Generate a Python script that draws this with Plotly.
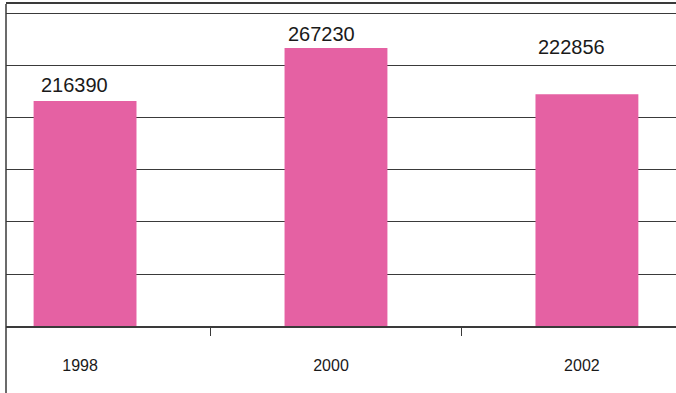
import plotly.graph_objects as go

years = ["1998", "2000", "2002"]
values = [216390, 267230, 222856]

# label offsets (pixels) so the value labels sit where the original has them
label_xshift = [-11, -14, -15]
label_yshift = [16, 14, 47]

bar_color = "#E561A3"
line_color = "#3a3a3a"

fig = go.Figure()
fig.add_trace(go.Bar(
    x=years,
    y=values,
    width=0.41,
    marker=dict(color=bar_color, line=dict(width=0)),
))

for i, v in enumerate(values):
    fig.add_annotation(
        x=i, y=v, text=str(v), showarrow=False,
        xshift=label_xshift[i], yshift=label_yshift[i], yanchor="middle",
        font=dict(family="Liberation Sans", size=20, color="#1a1a1a"),
    )

# left axis line runs down past the plot area to the bottom edge
fig.add_shape(type="line", xref="paper", yref="paper",
              x0=0, x1=0, y0=-67 / 322, y1=1,
              line=dict(color=line_color, width=1.5))

fig.update_layout(
    width=676, height=393,
    margin=dict(l=6, r=0, t=4, b=67),
    paper_bgcolor="white", plot_bgcolor="white",
    showlegend=False,
    font=dict(family="Liberation Sans", color="#1a1a1a"),
    xaxis=dict(
        type="category",
        range=[-0.315, 2.355],
        showgrid=False,
        showline=True, linecolor=line_color, linewidth=1.5,
        mirror=True,
        ticks="outside", tickson="boundaries", ticklen=8,
        tickcolor=line_color, tickwidth=1,
        ticklabelstandoff=24, ticklabelshift=-5,
        tickfont=dict(family="Liberation Sans", size=16, color="#1a1a1a"),
    ),
    yaxis=dict(
        range=[0, 309600],
        dtick=50000,
        showgrid=True, gridcolor=line_color, gridwidth=1,
        showticklabels=False, ticks="",
        zeroline=False,
        showline=False,
    ),
)

fig.write_html("out.html", config={"displayModeBar": False},
               post_script="document.body.style.margin='0';")
